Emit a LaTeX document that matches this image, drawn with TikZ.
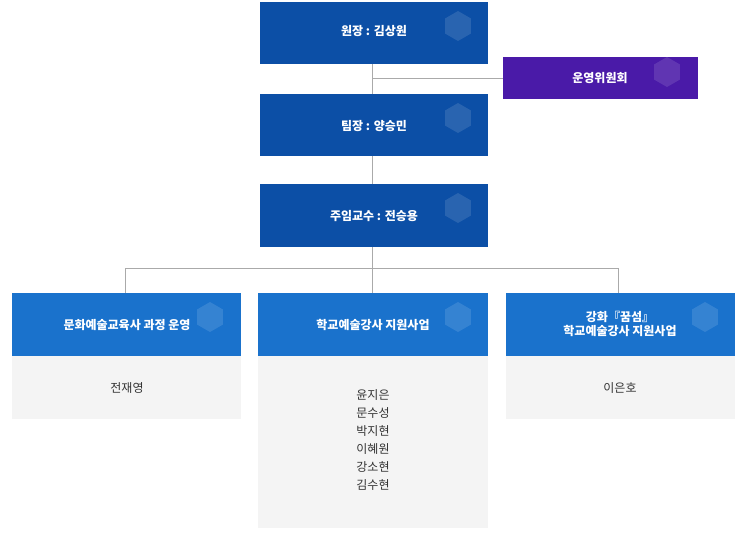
\documentclass[tikz,border=0pt]{standalone}
\usepackage{fontspec}
\setmainfont{Noto Sans CJK KR}
\usetikzlibrary{shapes.geometric}
\definecolor{dblue}{HTML}{0C4FA6}
\definecolor{lblue}{HTML}{1A72CC}
\definecolor{purp}{HTML}{4A1AA8}
\definecolor{gbody}{HTML}{F4F4F4}
\definecolor{lgray}{HTML}{AAAAAA}
\definecolor{txt}{HTML}{333333}
\begin{document}
\begin{tikzpicture}[x=1pt,y=-1pt,
  boxd/.style={fill=dblue,draw=none},
  hex/.style={regular polygon,regular polygon sides=6,minimum size=30pt,fill=white,fill opacity=0.12,draw=none,inner sep=0pt,rotate=30},
  lab/.style={text=white,font=\bfseries\fontsize{12}{14}\selectfont,align=center},
  body/.style={text=txt,font=\fontsize{12}{18}\selectfont,align=center},
  ln/.style={draw=lgray,line width=0.8pt}]
\useasboundingbox (0,0) rectangle (750,550);
% connectors
\coordinate (j1) at (372,78);
\coordinate (hl) at (125,268);
\coordinate (hr) at (618,268);
\coordinate (hm) at (372,268);
\draw[ln] (372,64) -- (372,94);
\draw[ln] (j1) -- (503,78);
\draw[ln] (372,156) -- (372,184);
\draw[ln] (372,247) -- (hm);
\draw[ln] (hl) -- (hr);
\draw[ln] (hl) -- (125,293);
\draw[ln] (hm) -- (372,293);
\draw[ln] (hr) -- (618,293);
% top boxes
\fill[dblue] (260,2) rectangle (488,64);
\node[hex] at (458,26) {};
\node[lab] (a) at (374,31) {원장 : 김상원};
\fill[purp] (503,57) rectangle (698,99);
\node[hex] at (667,72) {};
\node[lab] (b) at (600,78) {운영위원회};
\fill[dblue] (260,94) rectangle (488,156);
\node[hex] at (458,118) {};
\node[lab] (c) at (374,126) {팀장 : 양승민};
\fill[dblue] (260,184) rectangle (488,247);
\node[hex] at (458,208) {};
\node[lab] (d) at (374,216) {주임교수 : 전승용};
% bottom
\fill[lblue] (12,293) rectangle (241,356);
\node[hex] at (210,317) {};
\node[lab] (e) at (127,325) {문화예술교육사 과정 운영};
\fill[gbody] (12,356) rectangle (241,419);
\node[body] (e1) at (127,388) {전재영};
\fill[lblue] (258,293) rectangle (488,356);
\node[hex] at (458,317) {};
\node[lab] (f) at (373,325) {학교예술강사 지원사업};
\fill[gbody] (258,356) rectangle (488,528);
\node[body] (f1) at (373,440) {윤지은\\문수성\\박지현\\이혜원\\강소현\\김수현};
\fill[lblue] (506,293) rectangle (735,356);
\node[hex] at (705,317) {};
\node[lab] (g) at (620,324) {강화『꿈섬』\\학교예술강사 지원사업};
\fill[gbody] (506,356) rectangle (735,419);
\node[body] (g1) at (620,388) {이은호};
\end{tikzpicture}
\end{document}
